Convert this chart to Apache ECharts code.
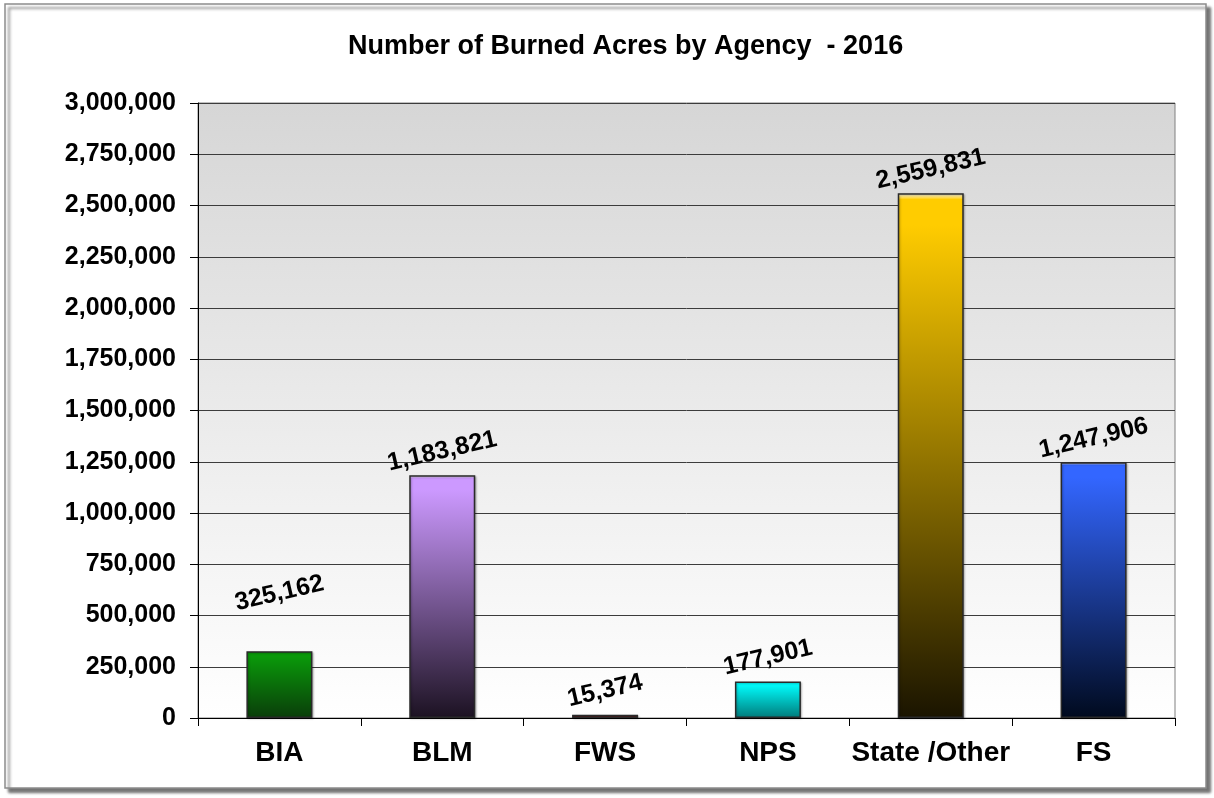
<!DOCTYPE html>
<html>
<head>
<meta charset="utf-8">
<script src="https://cdn.jsdelivr.net/npm/echarts@6/dist/echarts.min.js"></script>
<style>
  html, body { margin: 0; padding: 0; background: #fff; }
  #chart { width: 1214px; height: 798px; }
</style>
</head>
<body>
<div id="chart"></div>
<script>
const agencies = ['BIA', 'BLM', 'FWS', 'NPS', 'State /Other', 'FS']
const acres = [325162, 1183821, 15374, 177901, 2559831, 1247906]
const yTicks = { min: 0, max: 3000000, step: 250000 }

// top colour, bottom (shaded) colour per bar
const topColors = ['#0a9a0a', '#cc99ff', '#c00000', '#00ffff', '#ffcc00', '#3366ff']
const bottomColors = ['#0a3d0a', '#1c1222', '#5a0000', '#007a7a', '#1a1400', '#000a1e']

const fmt = v => Number(v).toLocaleString('en-US')
const FONT = '"Liberation Sans", Arial, sans-serif'

const chart = echarts.init(document.getElementById('chart'))

const barData = acres.map((val, idx) => ({
  value: val,
  itemStyle: {
    color: new echarts.graphic.LinearGradient(0, 0, 0, 1, [
      { offset: 0, color: '#ffffff' },
      { offset: 0.012, color: topColors[idx] },
      { offset: 0.06, color: topColors[idx] },
      { offset: 1, color: bottomColors[idx] }
    ])
  },
  label: idx === 0 ? { distance: 58 } : undefined
}))

chart.setOption({
  animation: false,
  graphic: [
    {
      type: 'rect',
      z: -10,
      shape: { x: 5, y: 4, width: 1201, height: 784 },
      style: {
        fill: '#ffffff',
        stroke: '#8c8c8c',
        lineWidth: 1.5,
        shadowBlur: 3,
        shadowOffsetX: 4,
        shadowOffsetY: 4,
        shadowColor: 'rgba(0,0,0,0.55)'
      }
    }
  ],
  title: {
    text: 'Number of Burned Acres by Agency  - 2016',
    left: 343,
    top: 28,
    textStyle: {
      fontFamily: FONT,
      fontSize: 27,
      fontWeight: 'bold',
      color: '#000'
    }
  },
  grid: {
    left: 198,
    right: 39,
    top: 103,
    bottom: 80,
    show: true,
    borderColor: '#808080',
    borderWidth: 1,
    backgroundColor: new echarts.graphic.LinearGradient(0, 0, 0, 1, [
      { offset: 0, color: '#d6d6d6' },
      { offset: 1, color: '#ffffff' }
    ])
  },
  xAxis: {
    type: 'category',
    data: agencies,
    axisLine: { lineStyle: { color: '#000', width: 1 } },
    axisTick: { show: true, length: 8, lineStyle: { color: '#000' } },
    axisLabel: {
      interval: 0,
      margin: 21,
      fontFamily: FONT,
      fontSize: 28,
      fontWeight: 'bold',
      color: '#000'
    }
  },
  yAxis: {
    type: 'value',
    min: yTicks.min,
    max: yTicks.max,
    interval: yTicks.step,
    axisLine: { show: true, lineStyle: { color: '#000', width: 1 } },
    axisTick: { show: true, length: 8, lineStyle: { color: '#000' } },
    splitLine: { lineStyle: { color: '#3c3c3c', width: 1 } },
    axisLabel: {
      margin: 22,
      formatter: fmt,
      fontFamily: FONT,
      fontSize: 25,
      fontWeight: 'bold',
      color: '#000'
    }
  },
  series: [
    {
      type: 'bar',
      data: barData,
      barWidth: 66,
      itemStyle: {
        borderColor: '#2a2a2a',
        borderWidth: 1.5,
        shadowColor: 'rgba(0,0,0,0.25)',
        shadowBlur: 2,
        shadowOffsetX: 1,
        shadowOffsetY: 1
      },
      label: {
        show: true,
        position: 'top',
        distance: 24,
        rotate: 13,
        align: 'center',
        verticalAlign: 'middle',
        formatter: p => fmt(p.value),
        fontFamily: FONT,
        fontSize: 25,
        fontWeight: 'bold',
        color: '#000'
      }
    }
  ]
})
</script>
</body>
</html>
